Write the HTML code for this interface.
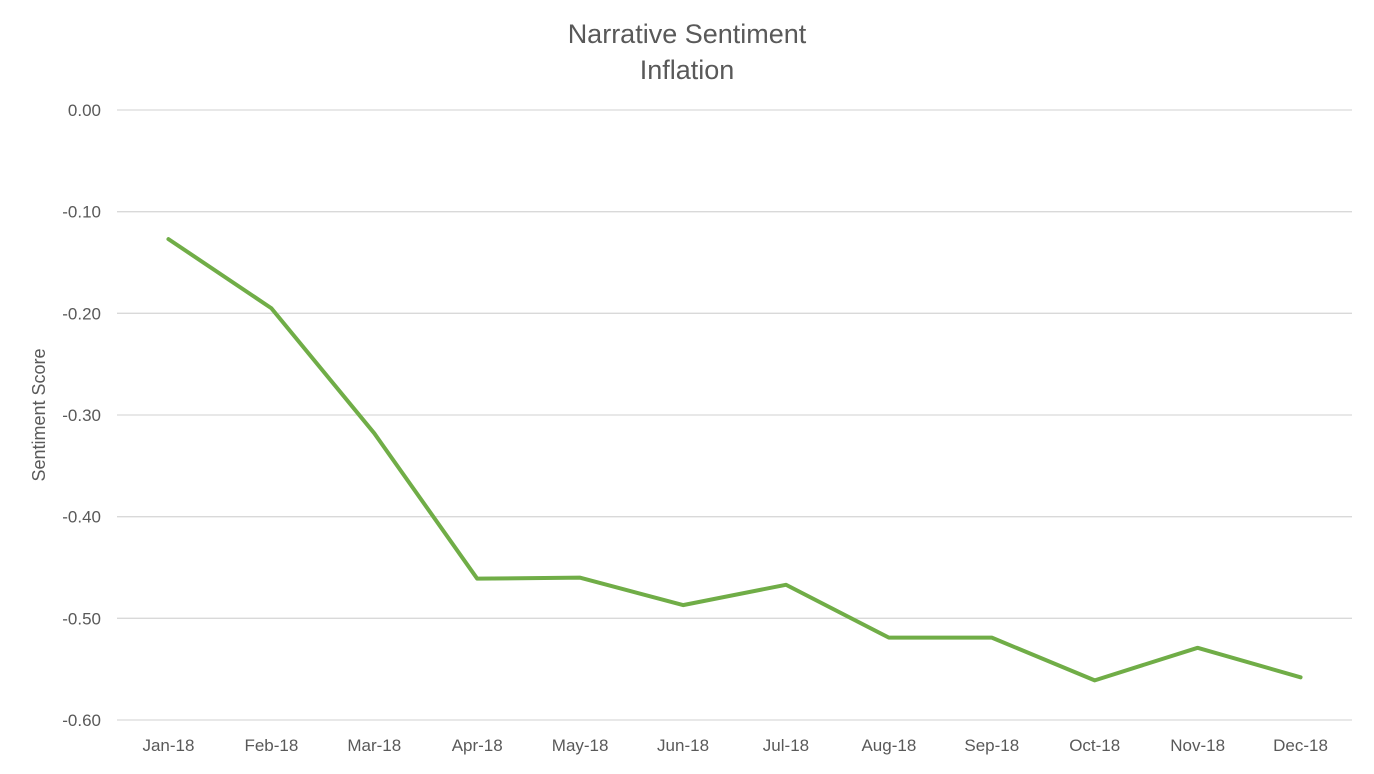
<!DOCTYPE html>
<html>
<head>
<meta charset="utf-8">
<style>
  html,body{margin:0;padding:0;background:#fff;}
  body{width:1374px;height:769px;overflow:hidden;font-family:"Liberation Sans",sans-serif;}
  svg text{font-family:"Liberation Sans",sans-serif;fill:#595959;}
</style>
</head>
<body>
<svg id="chart" width="1374" height="769" viewBox="0 0 1374 769" xmlns="http://www.w3.org/2000/svg">
  <text x="687" y="43" text-anchor="middle" font-size="27">Narrative Sentiment</text>
  <text x="687" y="79" text-anchor="middle" font-size="27">Inflation</text>
  <text transform="translate(45,415) rotate(-90)" text-anchor="middle" font-size="18">Sentiment Score</text>
  <g id="grid"></g>
  <g id="yticks"></g>
  <g id="xticks"></g>
  <g id="series"></g>
</svg>
<script>
const categories = ["Jan-18","Feb-18","Mar-18","Apr-18","May-18","Jun-18","Jul-18","Aug-18","Sep-18","Oct-18","Nov-18","Dec-18"];
const values = [-0.127,-0.195,-0.318,-0.461,-0.460,-0.487,-0.467,-0.519,-0.519,-0.561,-0.529,-0.558];
const yTicks = [0,-0.1,-0.2,-0.3,-0.4,-0.5,-0.6];
const yTickLabels = ["0.00","-0.10","-0.20","-0.30","-0.40","-0.50","-0.60"];

const NS = "http://www.w3.org/2000/svg";
const plotLeft = 117, plotRight = 1352, plotTop = 110, plotBottom = 720;
const yMin = -0.6, yMax = 0;
function yScale(v){ return plotTop + (yMax - v) / (yMax - yMin) * (plotBottom - plotTop); }
const band = (plotRight - plotLeft) / categories.length;
function xScale(i){ return plotLeft + band * (i + 0.5); }

const grid = document.getElementById('grid');
const yt = document.getElementById('yticks');
yTicks.forEach((t, i) => {
  const y = yScale(t);
  const l = document.createElementNS(NS, 'line');
  
  
  l.setAttribute('x1', plotLeft); l.setAttribute('x2', plotRight);
  l.setAttribute('y1', y); l.setAttribute('y2', y);
  l.setAttribute('stroke', '#d9d9d9'); l.setAttribute('stroke-width', '1.3');
  grid.appendChild(l);
  const tx = document.createElementNS(NS, 'text');
  
  
  tx.setAttribute('x', 101); tx.setAttribute('y', y + 6);
  tx.setAttribute('text-anchor', 'end'); tx.setAttribute('font-size', '17');
  tx.textContent = yTickLabels[i];
  yt.appendChild(tx);
});

const xt = document.getElementById('xticks');
categories.forEach((c, i) => {
  const tx = document.createElementNS(NS, 'text');
  
  
  tx.setAttribute('x', xScale(i)); tx.setAttribute('y', 751);
  tx.setAttribute('text-anchor', 'middle'); tx.setAttribute('font-size', '17');
  tx.textContent = c;
  xt.appendChild(tx);
});

const pts = values.map((v, i) => xScale(i) + ',' + yScale(v)).join(' ');
const pl = document.createElementNS(NS, 'polyline');


pl.setAttribute('points', pts);
pl.setAttribute('fill', 'none');
pl.setAttribute('stroke', '#70ad47');
pl.setAttribute('stroke-width', '4');
pl.setAttribute('stroke-linejoin', 'round');
pl.setAttribute('stroke-linecap', 'round');
document.getElementById('series').appendChild(pl);
</script>
</body>
</html>
